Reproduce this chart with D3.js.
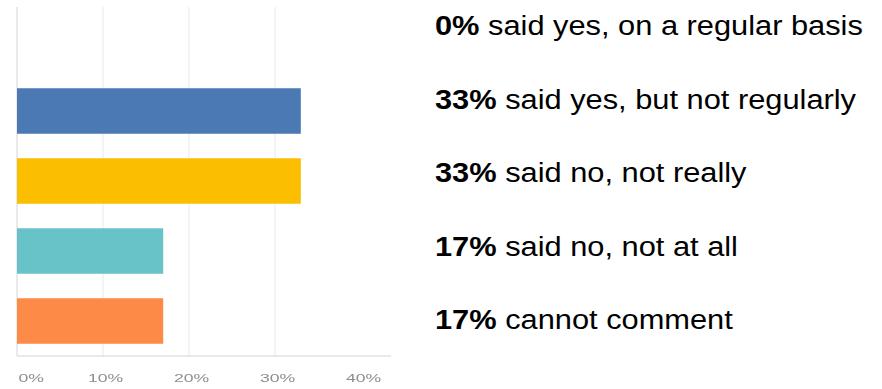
<!DOCTYPE html>
<html>
<head>
<meta charset="utf-8">
<script src="https://cdn.jsdelivr.net/npm/d3@7"></script>
<style>
  html, body { margin: 0; padding: 0; background: #fff; }
  svg { display: block; }
</style>
</head>
<body>
<svg id="chart" width="882" height="389"></svg>
<script>
// Survey answers, in display order
const categories = [
  "said yes, on a regular basis",
  "said yes, but not regularly",
  "said no, not really",
  "said no, not at all",
  "cannot comment"
];
const values = [0, 33, 33, 17, 17];          // percent of respondents
const barColors = ["#4b79b4", "#4b79b4", "#fbbe02", "#67c3c9", "#fd8b47"];
const tickValues = [0, 10, 20, 30, 40];
const tickLabels = ["0%", "10%", "20%", "30%", "40%"];

const svg = d3.select("#chart");

// blur for the small chart graphic
const defs = svg.append("defs");
defs.append("filter").attr("id", "soft")
  .append("feGaussianBlur").attr("stdDeviation", 0.6);
defs.append("filter").attr("id", "softer")
  .append("feGaussianBlur").attr("stdDeviation", 0.7);

const x = d3.scaleLinear().domain([0, 40]).range([17, 361]);
const y = d3.scaleBand()
  .domain(categories)
  .range([6, 356])
  .paddingInner(0.35)
  .paddingOuter(0.175);

const plot = svg.append("g").attr("filter", "url(#soft)");

// vertical gridlines
plot.append("g").selectAll("line")
  .data(tickValues.filter(d => d > 0 && d < 40))
  .join("line")
  .attr("x1", d => x(d)).attr("x2", d => x(d))
  .attr("y1", 7).attr("y2", 356)
  .attr("stroke", "#ececec").attr("stroke-width", 1.2);

// left axis line and baseline
plot.append("line")
  .attr("x1", x(0)).attr("x2", x(0)).attr("y1", 7).attr("y2", 356)
  .attr("stroke", "#dcdcdc").attr("stroke-width", 1.2);
plot.append("line")
  .attr("x1", x(0)).attr("x2", 391).attr("y1", 356).attr("y2", 356)
  .attr("stroke", "#d4d4d4").attr("stroke-width", 1.2);

// bars
plot.append("g").selectAll("rect")
  .data(categories)
  .join("rect")
  .attr("x", x(0))
  .attr("y", d => y(d))
  .attr("width", (d, i) => x(values[i]) - x(0))
  .attr("height", y.bandwidth())
  .attr("fill", (d, i) => barColors[i]);

// x axis tick labels (wide, light grey)
const xAxis = d3.axisBottom(x)
  .tickValues(tickValues)
  .tickFormat((d, i) => tickLabels[i])
  .tickSize(0);
const ax = svg.append("g")
  .attr("transform", "translate(0,356)")
  .attr("filter", "url(#softer)")
  .call(xAxis);
ax.select(".domain").remove();
ax.selectAll(".tick text")
  .attr("fill", "#8e8e8e")
  .attr("font-family", "Liberation Sans, Arial, sans-serif")
  .attr("font-size", 11)
  .attr("y", 0)
  .attr("dy", 0)
  .attr("text-anchor", d => d === 0 ? "start" : "middle")
  .attr("transform", d => d === 0 ? "translate(1,26) scale(1.6,1)" : "translate(2,26) scale(1.6,1)");

// right-hand summary text
const legend = svg.append("g")
  .attr("font-family", "Liberation Sans, Arial, sans-serif")
  .attr("font-size", 28)
  .attr("fill", "#000");

const rows = legend.selectAll("text")
  .data(categories)
  .join("text")
  .attr("transform", (d, i) => `translate(435,${35 + i * 73.5}) scale(1.1,1)`);

rows.append("tspan")
  .attr("font-weight", "bold")
  .text((d, i) => values[i] + "%");
rows.append("tspan")
  .text(d => " " + d);
</script>
</body>
</html>
